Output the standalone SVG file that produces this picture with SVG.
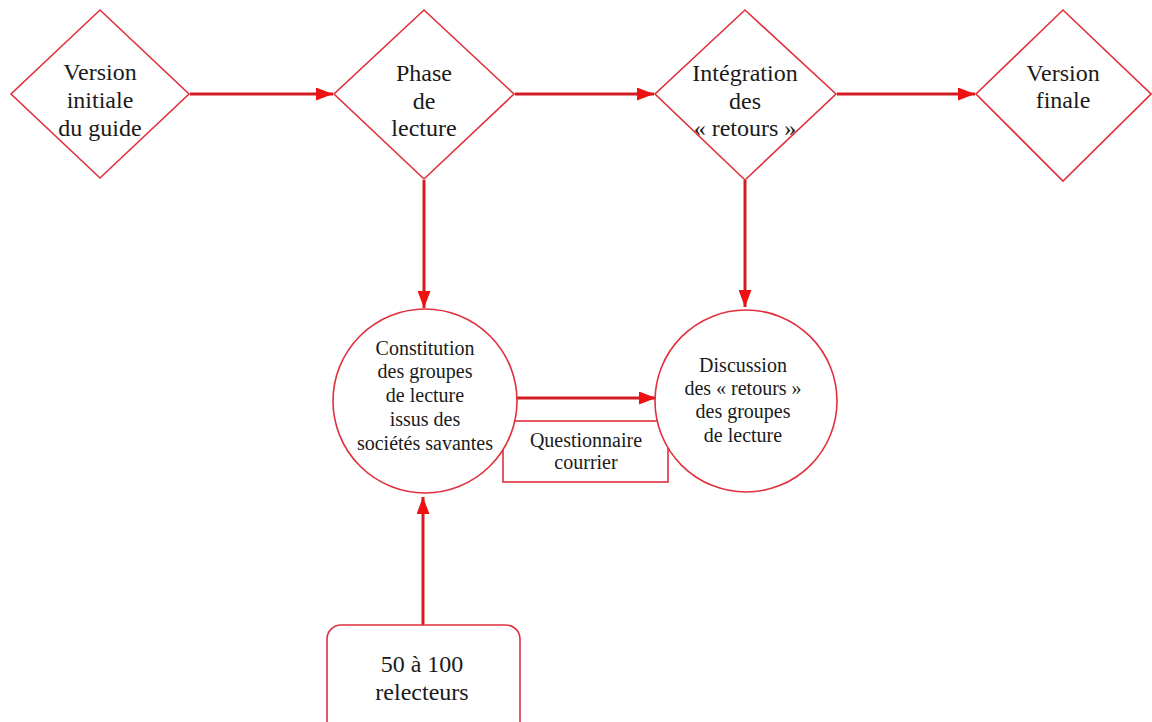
<svg xmlns="http://www.w3.org/2000/svg" width="1152" height="722" viewBox="0 0 1152 722">
<style>
.shape{fill:#fff;stroke:#e0303c;stroke-width:1.6}
.conn{stroke:#d41a22;stroke-width:3;fill:none}
.big{font-family:"Liberation Serif","Times New Roman",serif;font-size:24px;fill:#1a1a1a;text-anchor:middle}
.sm{font-family:"Liberation Serif","Times New Roman",serif;font-size:20px;fill:#1a1a1a;text-anchor:middle}
</style>
<defs>
<marker id="ah" markerWidth="17" markerHeight="13" refX="17" refY="6.5" orient="auto" markerUnits="userSpaceOnUse">
<path d="M0,0 L17,6.5 L0,13 Z" fill="#ee1111"/>
</marker>
</defs>
<rect width="1152" height="722" fill="#fff"/>
<g id="connectors">
<line class="conn" x1="190" y1="94" x2="333" y2="94" marker-end="url(#ah)"/>
<line class="conn" x1="515" y1="94" x2="654" y2="94" marker-end="url(#ah)"/>
<line class="conn" x1="837" y1="94" x2="975" y2="94" marker-end="url(#ah)"/>
<line class="conn" x1="424" y1="180" x2="424" y2="308" marker-end="url(#ah)"/>
<line class="conn" x1="745" y1="180" x2="745" y2="307" marker-end="url(#ah)"/>
<line class="conn" x1="516" y1="398" x2="656" y2="398" marker-end="url(#ah)"/>
<line class="conn" x1="423" y1="625" x2="423" y2="497" marker-end="url(#ah)"/>
</g>
<g id="questionnaire">
<rect class="shape" x="503" y="421" width="165" height="61"/>
<text class="sm" x="586" y="447">Questionnaire</text>
<text class="sm" x="586" y="469">courrier</text>
</g>
<g id="n1">
<polygon class="shape" points="100,10 189,94 100,178 11,94"/>
<text class="big" x="100" y="80">Version</text>
<text class="big" x="100" y="108">initiale</text>
<text class="big" x="100" y="136">du guide</text>
</g>
<g id="n2">
<polygon class="shape" points="424,10 514,94 424,179 334,94"/>
<text class="big" x="424" y="81">Phase</text>
<text class="big" x="424" y="109">de</text>
<text class="big" x="424" y="136">lecture</text>
</g>
<g id="n3">
<polygon class="shape" points="745,10 836,94 745,180 655,94"/>
<text class="big" x="745" y="81">Intégration</text>
<text class="big" x="745" y="109">des</text>
<text class="big" x="745" y="136">« retours »</text>
</g>
<g id="n4">
<polygon class="shape" points="1063,10 1151,94 1063,181 976,94"/>
<text class="big" x="1063" y="81">Version</text>
<text class="big" x="1063" y="108">finale</text>
</g>
<g id="n5">
<circle class="shape" cx="425" cy="401" r="92"/>
<text class="sm" x="425" y="355">Constitution</text>
<text class="sm" x="425" y="378">des groupes</text>
<text class="sm" x="425" y="402">de lecture</text>
<text class="sm" x="425" y="426">issus des</text>
<text class="sm" x="425" y="450">sociétés savantes</text>
</g>
<g id="n6">
<circle class="shape" cx="746" cy="401" r="91"/>
<text class="sm" x="743" y="372">Discussion</text>
<text class="sm" x="743" y="395">des « retours »</text>
<text class="sm" x="743" y="418">des groupes</text>
<text class="sm" x="743" y="442">de lecture</text>
</g>
<g id="n7">
<rect class="shape" x="327" y="625" width="193" height="115" rx="14"/>
<text class="big" x="422" y="672">50 à 100</text>
<text class="big" x="422" y="700">relecteurs</text>
</g>
</svg>
